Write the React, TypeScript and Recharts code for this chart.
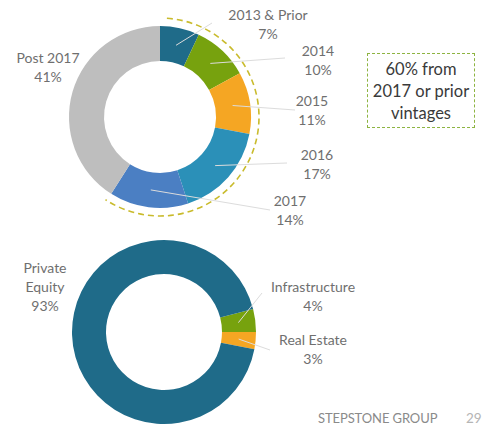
import React from 'react';
import { PieChart, Pie, Cell, Customized } from 'recharts';

// vintage year split (top donut)
const vintageNames = ['2013 & Prior', '2014', '2015', '2016', '2017', 'Post 2017'];
const vintageValues = [7, 10, 11, 17, 14, 41];
const vintageColors = ['#1f6b89', '#77a20e', '#f5a623', '#2b90b8', '#4b7fc3', '#bebebe'];

// strategy split (bottom donut)
const strategyNames = ['Infrastructure', 'Real Estate', 'Private Equity'];
const strategyLabels = [['Infrastructure'], ['Real Estate'], ['Private', 'Equity']];
const strategyValues = [4, 3, 93];
const strategyColors = ['#77a20e', '#f5a623', '#1f6b89'];

const calloutLines = ['60% from', '2017 or prior', 'vintages'];

const RAD = Math.PI / 180;
const FONT = 'Lato, "Open Sans", sans-serif';
const LABEL_COLOR = '#6f6f6f';

const TOP = { cx: 160, cy: 117, inner: 56, outer: 91 };
const BOTTOM = { cx: 164, cy: 332, inner: 58, outer: 92 };

// text block centre + leader line end, relative to the donut centre
const vintageLayout: Record<string, { x: number; y: number; line?: [number, number] }> = {
  '2013 & Prior': { x: 108, y: -93, line: [52, -94] },
  '2014': { x: 158, y: -57, line: [125, -59] },
  '2015': { x: 152, y: -7, line: [135, -7] },
  '2016': { x: 157, y: 47, line: [127, 46] },
  '2017': { x: 130, y: 93, line: [110, 93] },
  'Post 2017': { x: -112, y: -50 },
};

const strategyLayout: Record<string, { x: number; y: number; line?: [number, number] }> = {
  Infrastructure: { x: 149, y: -36, line: [98, -39] },
  'Real Estate': { x: 149, y: 17, line: [106, 18] },
  'Private Equity': { x: -119, y: -45 },
};

const vintageData = vintageNames.map((name, i) => ({ name, value: vintageValues[i], lines: [name] }));
const strategyData = strategyNames.map((name, i) => ({ name, value: strategyValues[i], lines: strategyLabels[i] }));

function makeLabel(layout: Record<string, { x: number; y: number; line?: [number, number] }>) {
  return (props: any) => {
    const { cx, cy, midAngle, innerRadius, outerRadius, payload, index } = props;
    const item = payload?.payload ?? payload;
    const name: string = item?.name ?? props.name;
    const lines: string[] = item?.lines ?? [name];
    const pos = layout[name];
    if (!pos) return null;
    const r = (innerRadius + outerRadius) / 2;
    const sx = cx + r * Math.cos(-midAngle * RAD);
    const sy = cy + r * Math.sin(-midAngle * RAD);
    const all = [...lines, `${props.value}%`];
    const lh = 19;
    const top = cy + pos.y - ((all.length - 1) * lh) / 2;
    return (
      <g key={`lbl-${index}`}>
        {pos.line && (
          <line
            x1={sx}
            y1={sy}
            x2={cx + pos.line[0]}
            y2={cy + pos.line[1]}
            stroke="#dcdcdc"
            strokeWidth={1}
          />
        )}
        {all.map((t, i) => (
          <text
            key={i}
            x={cx + pos.x}
            y={top + i * lh + 5}
            textAnchor="middle"
            fontFamily={FONT}
            fontSize={14}
            fill={LABEL_COLOR}
          >
            {t}
          </text>
        ))}
      </g>
    );
  };
}

// dashed arc hugging the 2017-or-prior slices
function VintageArc() {
  const share = vintageValues.slice(0, 5).reduce((a, b) => a + b, 0) / 100;
  const r = 99;
  const a0 = 4 * RAD;
  const a1 = (share * 360 + 1) * RAD;
  const x0 = TOP.cx + r * Math.sin(a0);
  const y0 = TOP.cy - r * Math.cos(a0);
  const x1 = TOP.cx + r * Math.sin(a1);
  const y1 = TOP.cy - r * Math.cos(a1);
  const large = a1 - a0 > Math.PI ? 1 : 0;
  return (
    <path
      d={`M${x0},${y0} A${r},${r} 0 ${large} 1 ${x1},${y1}`}
      fill="none"
      stroke="#c9bb2c"
      strokeWidth={1.6}
      strokeDasharray="6 4"
    />
  );
}

export default function App() {
  return (
    <div style={{ position: 'absolute', left: 0, top: 0, width: 482, height: 425, background: '#fff', overflow: 'hidden' }}>
      <PieChart width={482} height={425} margin={{ top: 0, right: 0, bottom: 0, left: 0 }}>
        <Customized component={VintageArc} />
        <Pie
          data={vintageData}
          dataKey="value"
          nameKey="name"
          cx={TOP.cx}
          cy={TOP.cy}
          innerRadius={TOP.inner}
          outerRadius={TOP.outer}
          startAngle={90}
          endAngle={-270}
          stroke="none"
          label={makeLabel(vintageLayout)}
          labelLine={false}
          isAnimationActive={false}
        >
          {vintageData.map((d, i) => (
            <Cell key={d.name} fill={vintageColors[i]} />
          ))}
        </Pie>
        <Pie
          data={strategyData}
          dataKey="value"
          nameKey="name"
          cx={BOTTOM.cx}
          cy={BOTTOM.cy}
          innerRadius={BOTTOM.inner}
          outerRadius={BOTTOM.outer}
          startAngle={14.4}
          endAngle={-345.6}
          stroke="none"
          label={makeLabel(strategyLayout)}
          labelLine={false}
          isAnimationActive={false}
        >
          {strategyData.map((d, i) => (
            <Cell key={d.name} fill={strategyColors[i]} />
          ))}
        </Pie>
      </PieChart>

      <div
        style={{
          position: 'absolute',
          left: 367,
          top: 53,
          width: 106,
          height: 73,
          border: '1.5px dashed #8db441',
          display: 'flex',
          flexDirection: 'column',
          justifyContent: 'center',
          alignItems: 'center',
          fontFamily: FONT,
          fontSize: 16.5,
          lineHeight: '22px',
          color: '#3a3a3a',
        }}
      >
        {calloutLines.map((t) => (
          <div key={t}>{t}</div>
        ))}
      </div>

      <div style={{ position: 'absolute', left: 318, top: 410, fontFamily: FONT, fontSize: 13, color: '#8a8a8a', letterSpacing: -0.1 }}>
        STEPSTONE GROUP
      </div>
      <div style={{ position: 'absolute', left: 466, top: 410, fontFamily: FONT, fontSize: 13.5, color: '#b5b5b5' }}>29</div>
    </div>
  );
}
